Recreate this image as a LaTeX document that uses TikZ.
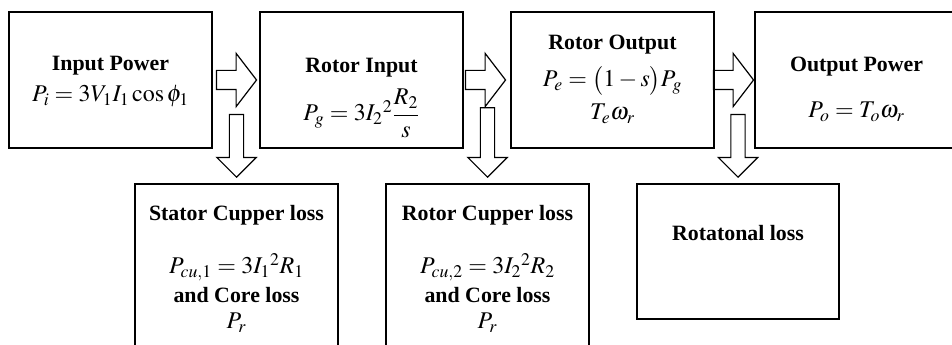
\documentclass[tikz,border=0pt]{standalone}
\usepackage{amsmath}
\usepackage{mathptmx}
\usepackage[no-math]{fontspec}
\setmainfont{Liberation Serif}
\usepackage{tikz}
\usetikzlibrary{arrows.meta, positioning, shapes.arrows, calc}
\newcommand{\pfeq}[1]{{\fontsize{18}{20}\selectfont$#1$}}

\begin{document}
\begin{tikzpicture}[
    x=0.75pt, y=-0.75pt,
    pbox/.style={draw, line width=1.3pt, minimum width=152pt, minimum height=102pt, inner sep=0pt, align=center, font=\fontsize{16.4}{20}\selectfont},
    lbox/.style={pbox, minimum height=126pt, text height=108.75pt, text depth=17.25pt, anchor=north},
    rblock/.style={single arrow, draw, line width=0.9pt, minimum height=30pt, inner sep=6.75pt, single arrow head extend=12.75pt, single arrow tip angle=105, anchor=tip},
    dblock/.style={single arrow, draw, line width=0.9pt, shape border rotate=270, minimum height=47pt, inner sep=4.9pt, single arrow head extend=9.4pt, single arrow tip angle=90, anchor=tip}
]
\useasboundingbox (0,0) rectangle (952,345);
\clip (0,0) rectangle (952,345);

\node[pbox, text height=67.5pt, text depth=34.5pt] (inpow) at (110.5,80) {\textbf{Input Power}\\[3.25pt] \pfeq{P_i = 3V_1 I_1\cos\phi_1}};
\node[pbox, text height=81.75pt, text depth=20.25pt] (rotin) at (361.5,80) {\textbf{Rotor Input}\\[8pt] \pfeq{P_g = 3{I_2}^2\dfrac{R_2}{s}}};
\node[pbox, text height=81pt, text depth=21pt] (rotout) at (612.5,80) {\textbf{Rotor Output}\\[7.75pt] \pfeq{P_e = \bigl(1-s\bigr)P_g}\\[4.75pt] \pfeq{T_e\omega_r}};
\node[pbox, text height=79.5pt, text depth=22.5pt] (outpow) at (856.5,80) {\textbf{Output Power}\\[14.5pt] \pfeq{P_o = T_o\omega_r}};

\node[lbox] (statloss) at (236.5,183) {\textbf{Stator Cupper loss}\\[19.75pt] \pfeq{P_{cu,1} = 3{I_1}^2R_1}\\[1.75pt] \textbf{and Core loss}\\[-0.5pt] \pfeq{P_r}};
\node[lbox] (rotloss) at (487.5,183) {\textbf{Rotor Cupper loss}\\[19.75pt] \pfeq{P_{cu,2} = 3{I_2}^2R_2}\\[1.75pt] \textbf{and Core loss}\\[-0.5pt] \pfeq{P_r}};
\node[pbox, minimum height=101pt, text height=42.75pt, text depth=58.5pt, anchor=north] (rotaloss) at (738,183) {\textbf{Rotatonal loss}};

% power flow
\node[rblock] (f1) at ([xshift=-1.5pt]rotin.west) {};
\node[rblock] (f2) at ([xshift=-3pt]rotout.west) {};
\node[rblock] (f3) at (outpow.west) {};

% losses
\node[dblock] (l1) at ([yshift=3.75pt]statloss.north) {};
\node[dblock, minimum height=52pt] (l2) at ([yshift=3.75pt]rotloss.north) {};
\node[dblock] (l3) at ([yshift=3.75pt]rotaloss.north) {};
\end{tikzpicture}
\end{document}
